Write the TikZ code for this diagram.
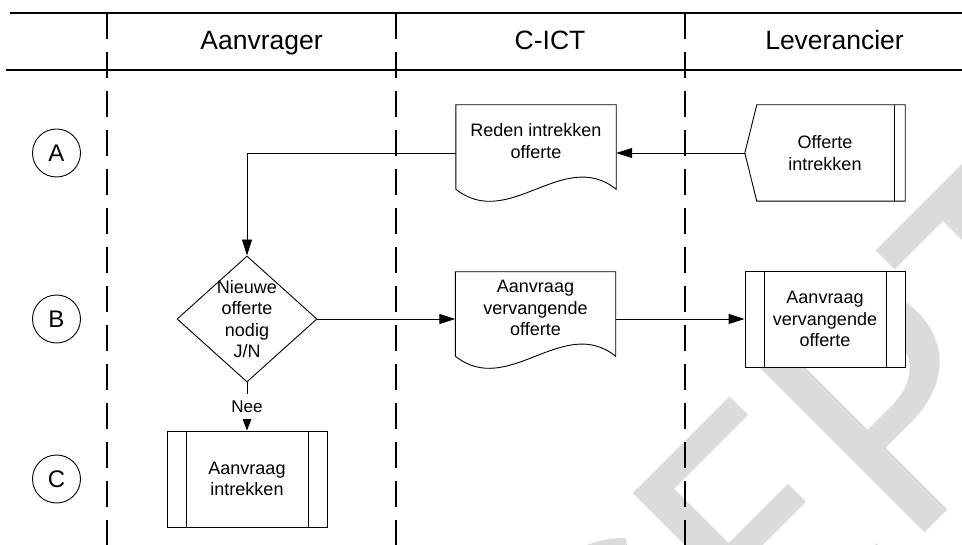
\documentclass[tikz,border=0pt]{standalone}
\usepackage{fontspec}
\setmainfont{Liberation Sans}
\newfontfamily\wmfont{Carlito}
\usetikzlibrary{arrows.meta, shapes.geometric}

\newcommand{\flowfont}{\fontsize{18}{21.5}\selectfont}

\tikzset{
  lane/.style={line width=2pt, dash pattern=on 26pt off 13pt},
  headline/.style={line width=2pt},
  lanetitle/.style={anchor=base, inner sep=0pt, font=\fontsize{26.5}{30}\selectfont},
  rowmark/.style={draw, circle, minimum size=48pt, inner sep=0pt, line width=0.9pt, font=\fontsize{24}{28}\selectfont},
  shapeline/.style={line width=0.9pt},
  docnode/.style={minimum width=160pt, minimum height=72pt, inner sep=0pt, align=center, font=\flowfont},
  subproc/.style={draw, fill=white, line width=0.9pt, minimum width=160pt, minimum height=96pt, inner sep=0pt, align=center, font=\flowfont,
    path picture={
      \draw[shapeline] ([xshift=19pt]path picture bounding box.north west) -- ([xshift=19pt]path picture bounding box.south west);
      \draw[shapeline] ([xshift=-19pt]path picture bounding box.north east) -- ([xshift=-19pt]path picture bounding box.south east);
    }},
  decision/.style={draw, diamond, aspect=1.11, minimum width=140pt, minimum height=126pt, inner sep=0pt, line width=0.9pt},
  flow/.style={line width=0.9pt, -{Triangle[length=16pt, width=10pt]}},
  neelabel/.style={fill=white, inner xsep=2pt, inner ysep=6.5pt, font=\fontsize{17}{20}\selectfont},
  wmark/.style={inner sep=0pt, text=black!14, font=\wmfont\fontsize{365}{400}\selectfont}
}

\begin{document}
\begin{tikzpicture}[x=1pt, y=-1pt]

\useasboundingbox (0,0) rectangle (962,545);
\fill[white] (0,0) rectangle (962,545);

% Watermark
\begin{scope}
  \clip (0,0) rectangle (962,545);
  \coordinate (wmP) at (906,552);
  \node[wmark, rotate=45, anchor=base east] (wmA) at (wmP) {CONCE};
  \node[wmark, rotate=45, anchor=base west] (wmB) at (wmP) {PT};
\end{scope}

% Header and lanes
\draw[headline] (10,13) -- (962,13);
\draw[headline] (6,70) -- (962,70);
\foreach \x in {107,396,685}
  \draw[lane] (\x,13) -- (\x,545);

\node[lanetitle] (hAanvrager) at (261.5,50) {Aanvrager};
\node[lanetitle] (hCict) at (550,50) {C-ICT};
\node[lanetitle] (hLeverancier) at (834.5,50) {Leverancier};

% Row markers
\node[rowmark] (rowA) at (56.5,153) {A};
\node[rowmark] (rowB) at (56.5,319) {B};
\node[rowmark] (rowC) at (56.5,479) {C};

% Row A
\node[docnode] (reden) at (536,141) {Reden intrekken\\offerte};
\draw[shapeline] (reden.north west) -- (reden.north east) -- ([yshift=-12pt]reden.south east)
  .. controls +(-53,-42) and +(53,42) .. ([yshift=-12pt]reden.south west) -- cycle;

\node[docnode, minimum height=96pt] (offin) at (825,153) {Offerte\\intrekken};
\draw[shapeline] ([xshift=12pt]offin.north west) -- (offin.north east) -- (offin.south east)
  -- ([xshift=12pt]offin.south west) -- (offin.west) -- cycle;
\draw[shapeline] ([xshift=-10.5pt]offin.north east) -- ([xshift=-10.5pt]offin.south east);

% Row B
\node[decision, label={[align=center, font=\flowfont]center:Nieuwe\\offerte\\nodig\\J/N}] (dec) at (247,319) {};

\node[docnode] (vervdoc) at (535.5,308) {Aanvraag\\vervangende\\offerte};
\draw[shapeline] (vervdoc.north west) -- (vervdoc.north east) -- ([yshift=-12pt]vervdoc.south east)
  .. controls +(-53,-42) and +(53,42) .. ([yshift=-12pt]vervdoc.south west) -- cycle;

\node[subproc] (levsub) at (825,319) {Aanvraag\\vervangende\\offerte};

% Row C
\node[subproc] (intrek) at (247,479) {Aanvraag\\intrekken};

% Connectors
\draw[flow] (offin.west) -- (offin.west -| reden.east);
\draw[flow] (rowA -| reden.west) -| (dec.north);
\draw[flow] (dec.east) -- (dec.east -| vervdoc.west);
\draw[flow] (dec.east -| vervdoc.east) -- (levsub.west);
\draw[flow, -{Triangle[length=12pt, width=9pt]}] (dec.south) -- node[neelabel] {Nee} (intrek.north);

\end{tikzpicture}
\end{document}
